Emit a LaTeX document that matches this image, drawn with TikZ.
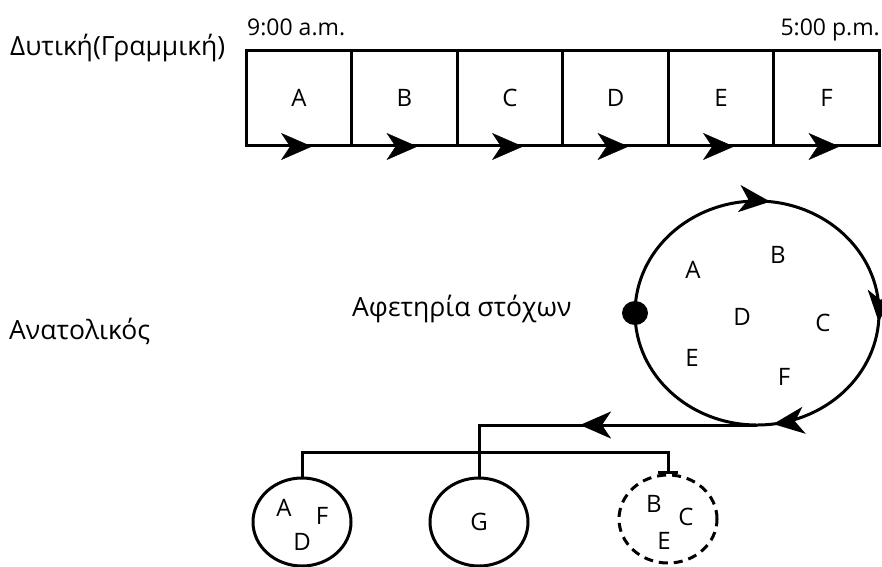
\documentclass[tikz,border=0pt]{standalone}
\usepackage{fontspec}
\setmainfont{Open Sans}
\usetikzlibrary{arrows.meta,decorations.markings,shapes.geometric}

\tikzset{
  barb/.tip={Stealth[length=31pt,width=27pt,inset=9pt]},
  txt/.style={font=\fontsize{24}{28}\selectfont, inner sep=0pt},
  title/.style={font=\fontsize{26.5}{30}\selectfont, inner sep=0pt},
  stamp/.style={font=\fontsize{23}{28}\selectfont, inner sep=0pt},
  cell/.style={draw, line width=3pt, minimum width=105.5pt, minimum height=95pt,
    inner sep=0pt, font=\fontsize{24}{28}\selectfont},
  wire/.style={line width=3pt},
  group/.style={draw, ellipse, line width=3pt, minimum width=98pt, minimum height=88pt},
  runarrow/.style={postaction={decorate}, decoration={markings,
    mark=at position 0.62 with {\arrow{barb}}}}
}

\begin{document}
\begin{tikzpicture}[x=1pt, y=-1pt]
  \useasboundingbox (0,0) rectangle (882,566);

  % linear schedule
  \node[title, anchor=base west] at (10,55) {Δυτική(Γραμμική)};
  \node[stamp, anchor=base west] (am) at (247,35) {9:00 a.m.};
  \node[stamp, anchor=base east] (pm) at (880,35) {5:00 p.m.};
  \foreach \name [count=\i from 0] in {A,B,C,D,E,F}
    \node[cell] (\name) at (299+105.5*\i,97.5) {\name};
  \foreach \name in {A,B,C,D,E,F}
    \path[runarrow] (\name.south west) -- (\name.south east);

  % circular schedule
  \node[title, anchor=base west] at (9,339) {Ανατολικός};
  \node[title, anchor=base west] at (352,316) {Αφετηρία στόχων};
  \draw[wire, postaction={decorate}, decoration={markings,
      mark=at position 0.012 with {\arrow{barb}},
      mark=at position 0.228 with {\arrow{barb}},
      mark=at position 0.768 with {\arrow{barb}}}]
    (757,313) ellipse [x radius=122, y radius=112];
  \coordinate (start) at (635,313);
  \coordinate (low) at (757,425);
  \fill (start) ellipse [x radius=13, y radius=12];
  \node[txt] at (693,270) {A};
  \node[txt] at (778,255) {B};
  \node[txt] at (823,323) {C};
  \node[txt] at (742,317) {D};
  \node[txt] at (692,358) {E};
  \node[txt] at (784,377) {F};

  % groups
  \node[group] (g1) at (302,522) {};
  \node[group] (g2) at (479,522) {};
  \node[group, dashed, dash pattern=on 9pt off 6pt] (g3) at (668,519) {};
  \node[txt] at (284,508) {A};
  \node[txt] at (322,516) {F};
  \node[txt] at (302,542) {D};
  \node[txt] at (479,522) {G};
  \node[txt] at (654,504) {B};
  \node[txt] at (686,517) {C};
  \node[txt] at (664,541) {E};

  \coordinate (fork) at (479,452);
  \draw[wire, postaction={decorate}, decoration={markings,
      mark=at position 177pt with {\arrow{barb}}}]
    (low) -- (g2.north |- low) -- (g2.north);
  \draw[wire, -{Bar[width=20pt]}] (g1.north) |- (fork) -| (g3.north);
\end{tikzpicture}
\end{document}
